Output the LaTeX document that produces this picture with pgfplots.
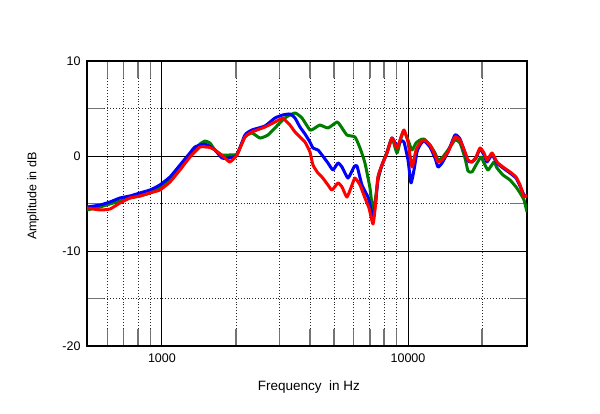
\documentclass[border=0pt]{standalone}
\usepackage{fontspec}
\setmainfont{Liberation Sans}
\usepackage{pgfplots}
\usepackage{pgfplotstable}
\pgfplotsset{compat=1.18}
\definecolor{cblue}{RGB}{0,0,255}
\definecolor{cgreen}{RGB}{0,125,0}
\definecolor{cred}{RGB}{255,0,0}
\pgfplotstableread{
f db
496 -5.47
560 -5.68
615 -5.58
675 -4.95
741 -4.42
814 -4.21
894 -3.89
981 -3.58
1078 -2.74
1184 -1.47
1300 -0.11
1427 0.95
1496 0.95
1567 0.90
1642 0.63
1804 -0.21
1890 -0.63
2018 0.11
2175 2.0
2323 2.53
2623 3.05
2880 3.58
3104 4.0
3162 3.79
3313 3.26
3473 2.53
3639 2.0
3814 1.47
3996 0.42
4110 -0.95
4306 -1.79
4471 -2.21
4729 -3.05
4910 -3.58
5194 -2.84
5393 -3.26
5649 -4.32
5922 -3.05
6090 -2.32
6383 -3.05
6685 -4.42
6941 -5.47
7205 -7.16
7343 -5.68
7551 -2.21
7841 -0.95
8215 0.32
8610 1.89
9022 0.84
9366 2.0
9632 2.74
10000 1.47
10382 -1.16
10778 0.63
11190 1.37
11614 1.68
12285 1.16
12877 0.11
13243 -0.63
13750 -0.42
14543 0.42
15530 2.0
16270 1.68
17045 0.42
17538 -0.42
18203 -0.63
18899 -0.11
19620 0.84
20366 0.32
20947 -0.42
21955 0.32
23000 -0.63
24326 -1.16
25977 -1.68
27479 -2.21
28532 -3.05
29620 -4.32
30460 -4.1
}\redtab
\pgfplotstableread{
f db
496 -5.37
560 -5.16
615 -4.84
675 -4.42
741 -4.21
814 -3.89
894 -3.58
981 -3.05
1078 -2.21
1184 -0.95
1300 0.32
1362 0.95
1496 1.26
1642 0.63
1754 -0.21
1890 -0.21
2018 0.11
2175 2.21
2323 2.74
2623 3.16
2880 4.0
3104 4.32
3313 4.42
3473 4.0
3639 3.05
3814 2.32
3996 1.47
4110 0.84
4306 0.63
4471 0.11
4729 -0.74
4956 -1.47
5194 -0.74
5393 -1.16
5703 -2.32
6032 -1.16
6204 -1.05
6501 -3.05
6877 -4.32
7007 -5.16
7205 -6.53
7411 -4.63
7551 -2.3
7841 -0.95
8215 0.32
8610 1.89
9022 1.05
9366 1.58
9632 1.47
10000 -0.42
10285 -2.84
10578 -1.47
10879 0.42
11190 1.16
11614 1.58
12285 0.95
12877 -0.21
13243 -1.16
13750 -0.74
14543 0.42
15530 2.21
16270 1.79
17045 0.32
17538 -0.53
18203 -0.63
18899 -0.21
19620 0.74
20366 0.11
20947 -0.63
21955 0.11
23000 -0.74
24326 -1.26
25977 -1.79
27479 -2.32
28532 -3.16
29620 -4.1
30460 -4.32
}\bluetab
\pgfplotstableread{
f db
496 -5.68
560 -5.37
615 -5.05
675 -4.74
741 -4.42
814 -4.21
894 -3.89
981 -3.37
1078 -2.53
1184 -1.16
1300 0.21
1427 1.26
1496 1.58
1567 1.37
1642 0.63
1754 0.11
1890 0.11
2018 0.21
2175 2.0
2323 2.42
2503 1.89
2697 2.21
2880 2.95
3162 4.0
3473 4.53
3707 4.0
3996 2.74
4188 2.95
4388 3.26
4729 2.95
5146 3.58
5292 3.26
5649 2.21
6090 2.0
6383 0.84
6685 -0.74
7007 -3.37
7205 -5.89
7411 -4.1
7551 -2.53
7841 -0.95
8215 0.42
8610 1.89
9022 0.32
9366 1.89
9632 2.63
10000 1.68
10382 0.63
10778 1.37
11190 1.68
11614 1.79
12285 1.16
12877 0.32
13243 -0.42
13750 -0.21
14543 0.63
15530 1.68
16270 1.37
17045 -0.21
17538 -1.58
18203 -1.68
18899 -0.95
19803 -0.11
20366 -0.74
21147 -1.47
22367 -0.63
23000 -1.26
24326 -2.0
25977 -2.53
27479 -3.26
28532 -3.89
29620 -4.63
30460 -5.89
}\greentab
\begin{document}
\begin{tikzpicture}[x=1pt,y=1pt]
\path[use as bounding box] (0,0) rectangle (600,414);
\begin{axis}[
  at={(87pt,68pt)}, anchor=south west,
  scale only axis, width=440pt, height=285pt,
  xmode=log, xmin=496, xmax=30460, ymin=-20, ymax=10,
  xtick={1000,10000}, xticklabels={1000,10000},
  minor xtick={600,700,800,900,2000,3000,4000,5000,6000,7000,8000,9000,20000},
  ytick={-20,-10,0,10}, yticklabels={-20,-10,0,10},
  minor ytick={-15,-5,5},
  grid=both,
  major grid style={black, line width=0.9pt},
  minor grid style={black!85, line width=0.8pt, dash pattern=on 0.9pt off 2pt},
  tick align=inside, tick pos=both,
  major tick length=0pt,
  minor tick length=17pt,
  minor tick style={black!55, line width=1.3pt},
  axis line style={line width=2pt},
  ticklabel style={font=\fontsize{12.5}{14}\selectfont},
  xticklabel style={yshift=-4pt},
  yticklabel style={xshift=-3pt},
  xlabel={Frequency\ \ in Hz},
  ylabel={Amplitude in dB},
  xlabel style={font=\fontsize{13.5}{15}\selectfont, at={(rel axis cs:0.5045,0)}, anchor=base, yshift=-45pt},
  ylabel style={font=\fontsize{12.5}{14}\selectfont, at={(rel axis cs:-0.1227,0.526)}, anchor=center, rotate=0},
  clip=true,
]
\addplot[cgreen, line width=3pt, line join=round, smooth, tension=0.3] table[x=f,y=db] {\greentab};
\addplot[cblue, line width=3pt, line join=round, smooth, tension=0.3] table[x=f,y=db] {\bluetab};
\addplot[cred, line width=3pt, line join=round, smooth, tension=0.3] table[x=f,y=db] {\redtab};
\end{axis}
\end{tikzpicture}
\end{document}
